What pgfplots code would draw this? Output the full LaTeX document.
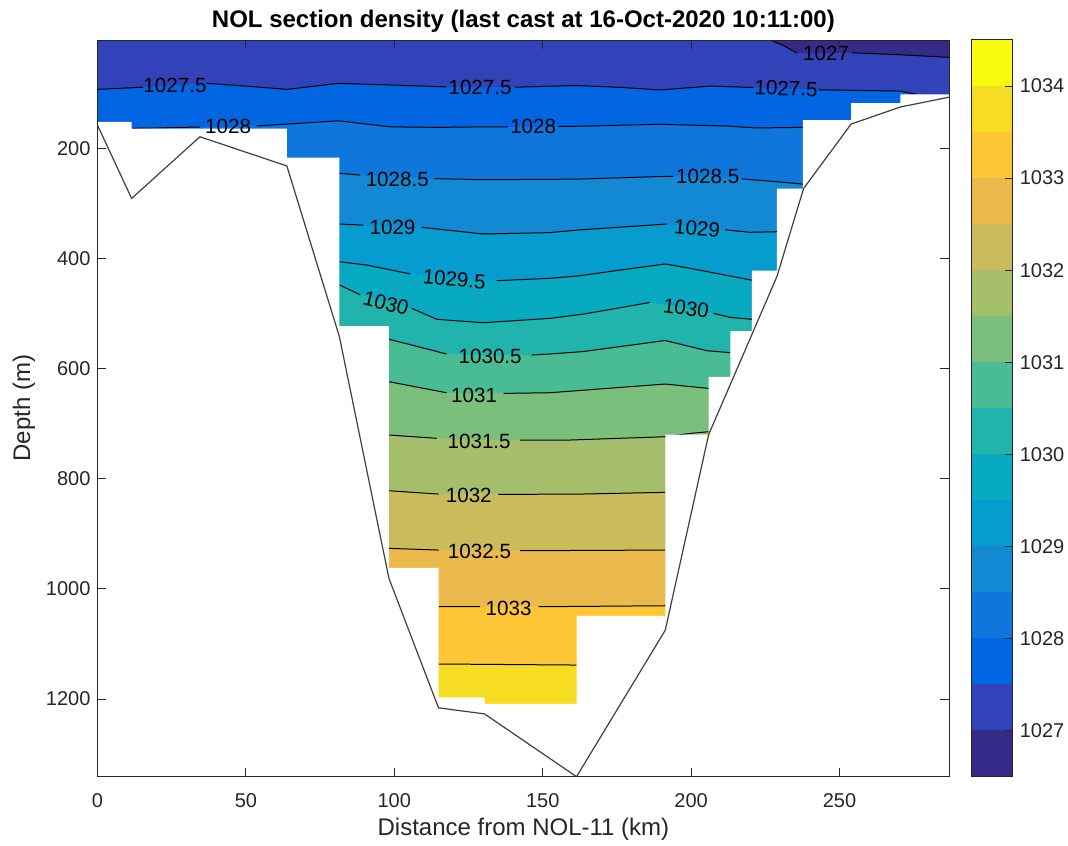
\documentclass[border=0pt]{standalone}
\usepackage{pgfplots}
\pgfplotsset{compat=1.18}
\usepackage{fontspec}
\setmainfont{Liberation Sans}
\definecolor{c0}{RGB}{53,42,135}
\definecolor{c1}{RGB}{50,67,186}
\definecolor{c2}{RGB}{2,101,225}
\definecolor{c3}{RGB}{15,119,219}
\definecolor{c4}{RGB}{19,136,211}
\definecolor{c5}{RGB}{7,156,207}
\definecolor{c6}{RGB}{7,170,193}
\definecolor{c7}{RGB}{32,180,173}
\definecolor{c8}{RGB}{73,188,148}
\definecolor{c9}{RGB}{122,191,124}
\definecolor{c10}{RGB}{165,190,107}
\definecolor{c11}{RGB}{202,187,92}
\definecolor{c12}{RGB}{236,185,76}
\definecolor{c13}{RGB}{254,197,53}
\definecolor{c14}{RGB}{246,221,34}
\definecolor{c15}{RGB}{249,251,14}
\definecolor{axc}{RGB}{38,38,38}
\tikzset{lab/.style={font=\fontsize{10.3}{12}\selectfont, inner sep=0pt, text=black}}
\begin{document}
\begin{tikzpicture}
\useasboundingbox (-48.75pt,-34.25pt) rectangle (485.25pt,388.25pt);
\begin{axis}[name=main, at={(0,0)}, anchor=south west,
  scale only axis, width=425.9pt, height=368.25pt,
  xmin=0, xmax=287, ymin=3.3, ymax=1340.7, y dir=reverse,
  axis on top,
  xtick={0,50,...,250}, ytick={200,400,...,1200},
  tick align=inside, major tick length=4.5pt,
  axis line style={draw=axc, line width=0.5pt},
  tick style={draw=axc, line width=0.5pt},
  /pgf/number format/1000 sep={},
  /pgf/number format/assume math mode=true,
  tick label style={font=\fontsize{10}{12}\selectfont, text=axc},
  xticklabel style={anchor=center, yshift=-12.25pt},
  xlabel={Distance from NOL-11 (km)},
  ylabel={Depth (m)},
  label style={font=\fontsize{12}{14}\selectfont, text=axc},
  xlabel style={at={(axis description cs:0.5,-0.0713)}, anchor=center},
  ylabel style={at={(axis description cs:-0.0863,0.5)}, anchor=center},
  title={NOL section density (last cast at 16-Oct-2020 10:11:00)},
  title style={font=\bfseries\fontsize{12}{14}\selectfont, at={(axis description cs:0.5,1.0258)}, anchor=center, yshift=-6pt},
  unbounded coords=jump,
]
% filled bands
\addplot[fill=c1, draw=none] coordinates {(-10,-10) (300,-10) (300,1400) (-10,1400)} -- cycle;
\addplot[fill=c0, draw=none] coordinates {(226.6,-10) (226.6,3.3) (231,13) (235.7,27) (245,27) (254.2,26.4) (270,30) (287,34.8) (300,34.8) (300,-10)} -- cycle;
\addplot[fill=c2, draw=none] coordinates {(-10,93) (0,93) (15.4,89) (26,85.5) (36.8,82) (50,87) (63.8,93) (81.2,82) (98.6,85) (114.9,88) (128.9,89) (140.5,89) (161.4,86) (175,89) (189.6,94) (206.4,87) (221,89.5) (232,91.5) (245.7,94) (270.5,96) (276,102) (287,104) (300,104) (300,1400) (-10,1400)} -- cycle;
\addplot[fill=c3, draw=none] coordinates {(11.5,163.7) (20,163) (34.5,161.3) (44,160.8) (53.6,159.5) (81.2,150) (98.6,161) (114.9,162) (130.4,161) (146.8,161) (161.4,160) (189.6,156.4) (212,159.5) (221.7,163) (237.7,162) (237.7,1400) (11.5,1400)} -- cycle;
\addplot[fill=c4, draw=none] coordinates {(81.5,245.4) (88.5,248.5) (101,253) (113.5,255) (130,257) (161,256) (191,251) (194,251) (205.6,252) (217,255.5) (228.9,260.6) (237.7,265) (237.7,1400) (81.5,1400)} -- cycle;
\addplot[fill=c5, draw=none] coordinates {(81.5,337.5) (89.6,339.5) (99.4,341.5) (109.3,343.5) (130,355.6) (152.5,353) (162.6,348) (191.8,337.5) (202,343) (211.5,348) (219.9,352.5) (228.9,351.4) (228.9,1400) (81.5,1400)} -- cycle;
\addplot[fill=c6, draw=none] coordinates {(81.5,405.9) (90.7,412) (105.3,428) (120.2,437) (134.5,440.4) (152.5,436) (161.5,432) (174.9,422) (191.3,410) (199.7,418) (220.5,439.5) (220.5,1400) (81.5,1400)} -- cycle;
\addplot[fill=c7, draw=none] coordinates {(81.5,448) (88.5,466) (97.2,478) (105.9,490.6) (114.3,510.5) (130,516.7) (152.5,508.7) (163.7,501) (174.9,490.5) (186,480) (198.3,490) (207.5,499.6) (213.2,507) (220.5,510.5) (220.5,1400) (81.5,1400)} -- cycle;
\addplot[fill=c8, draw=none] coordinates {(98.2,546.8) (105,556) (117.6,573.5) (132.3,576) (146.3,575.3) (152.5,573.5) (163.7,569) (191.3,549) (205.3,567.5) (213.2,571) (213.2,1400) (98.2,1400)} -- cycle;
\addplot[fill=c9, draw=none] coordinates {(98.2,623.8) (117.6,643.8) (127,645) (136.8,645) (152.5,643.8) (191.3,628) (205.9,636) (205.9,1400) (98.2,1400)} -- cycle;
\addplot[fill=c10, draw=none] coordinates {(98.2,720.6) (114.3,726.6) (128.6,729) (142.4,729.7) (159.2,729.7) (191.3,723.7) (200,717.5) (205.9,714.6) (205.9,1400) (98.2,1400)} -- cycle;
\addplot[fill=c11, draw=none] coordinates {(98.2,821.8) (114.9,827.8) (125,828) (135.1,828.3) (161,828) (191.3,824.7) (191.3,1400) (98.2,1400)} -- cycle;
\addplot[fill=c12, draw=none] coordinates {(98.2,926.4) (114.9,929.5) (128.7,930.3) (142.4,930.7) (191.3,929.5) (191.3,1400) (98.2,1400)} -- cycle;
\addplot[fill=c13, draw=none] coordinates {(114.9,1032.4) (138.5,1032.4) (191.3,1030.6) (191.3,1400) (114.9,1400)} -- cycle;
\addplot[fill=c14, draw=none] coordinates {(114.9,1136.4) (161.4,1138.3) (161.4,1400) (114.9,1400)} -- cycle;
% contour lines
\addplot[black, line width=0.5pt] coordinates {(226.6,3.3) (231,13) (235.7,27) (237.9,nan) (254.2,26.4) (270,30) (287,34.8)};
\addplot[black, line width=0.5pt] coordinates {(0,93) (15.4,89) (20,nan) (36.8,82) (50,87) (63.8,93) (81.2,82) (98.6,85) (114.9,88) (117.5,88.3) (120,nan) (140.5,89) (161.4,86) (175,89) (189.6,94) (206.4,87) (221,89.5) (230,nan) (243,93.6) (245.7,94) (270.5,96) (276,102)};
\addplot[black, line width=0.5pt] coordinates {(11.5,163.7) (20,163) (34.5,161.3) (40,nan) (53.6,159.5) (81.2,150) (98.6,161) (114.9,162) (130.4,161) (138.3,161) (145,nan) (155.3,160.4) (161.4,160) (189.6,156.4) (212,159.5) (221.7,163) (237.7,162)};
\addplot[black, line width=0.5pt] coordinates {(81.5,245.4) (88.5,248.5) (100,nan) (113.5,255) (130,257) (161,256) (191,251) (194,251) (200,nan) (217,255.5) (228.9,260.6) (237.7,265)};
\addplot[black, line width=0.5pt] coordinates {(81.5,337.5) (89.6,339.5) (100,nan) (109.3,343.5) (130,355.6) (152.5,353) (162.6,348) (191.8,337.5) (200,nan) (211.5,348) (219.9,352.5) (228.9,351.4)};
\addplot[black, line width=0.5pt] coordinates {(81.5,405.9) (90.7,412) (105.3,428) (120,nan) (134.5,440.4) (152.5,436) (161.5,432) (174.9,422) (191.3,410) (199.7,418) (220.5,439.5)};
\addplot[black, line width=0.5pt] coordinates {(81.5,448) (88.5,466) (95,nan) (105.9,490.6) (114.3,510.5) (130,516.7) (152.5,508.7) (163.7,501) (174.9,490.5) (186,480) (195,nan) (207.5,499.6) (213.2,507) (220.5,510.5)};
\addplot[black, line width=0.5pt] coordinates {(98.2,546.8) (105,556) (117.6,573.5) (130,nan) (146.3,575.3) (152.5,573.5) (163.7,569) (191.3,549) (205.3,567.5) (213.2,571)};
\addplot[black, line width=0.5pt] coordinates {(98.2,623.8) (117.6,643.8) (125,nan) (136.8,645) (152.5,643.8) (191.3,628) (205.9,636)};
\addplot[black, line width=0.5pt] coordinates {(98.2,720.6) (114.3,726.6) (130,nan) (142.4,729.7) (159.2,729.7) (191.3,723.7) (200,717.5) (205.9,714.6)};
\addplot[black, line width=0.5pt] coordinates {(98.2,821.8) (114.9,827.8) (125,nan) (135.1,828.3) (161,828) (191.3,824.7)};
\addplot[black, line width=0.5pt] coordinates {(98.2,926.4) (114.9,929.5) (130,nan) (142.4,930.7) (191.3,929.5)};
\addplot[black, line width=0.5pt] coordinates {(114.9,1032.4) (128.9,1032.4) (140,nan) (148.6,1032.4) (191.3,1030.6)};
\addplot[black, line width=0.5pt] coordinates {(114.9,1136.4) (161.4,1138.3)};
% mask below the casts
\addplot[fill=white, draw=none] coordinates {(-10,152) (11.5,152) (11.5,164) (63.8,164) (63.8,217) (81.5,217) (81.5,523) (98.2,523) (98.2,962) (114.9,962) (114.9,1197) (130.4,1197) (130.4,1209) (161.4,1209) (161.4,1049) (191.3,1049) (191.3,720) (205.9,720) (205.9,615) (213.2,615) (213.2,532) (220.5,532) (220.5,422) (228.9,422) (228.9,273) (237.7,273) (237.7,149) (253.9,149) (253.9,118) (270.5,118) (270.5,102) (300,102) (300,1400) (-10,1400)} -- cycle;
% bottom topography
\addplot[black!75, line width=0.6pt] coordinates {(0,158) (11.5,291) (34.5,179) (63.8,232) (81.5,542) (98.2,981) (114.9,1216) (130.4,1227) (161.4,1341) (191.3,1075) (205.9,720) (228.9,433) (237.9,273) (253.9,156) (270.5,125) (287,107)};
% contour labels
\node[lab] at (axis cs:245.5,27.8) {1027};
\node[lab] at (axis cs:26.1,85.5) {1027.5};
\node[lab] at (axis cs:128.9,88.5) {1027.5};
\node[lab, rotate=-2] at (axis cs:232,91) {1027.5};
\node[lab] at (axis cs:44,161) {1028};
\node[lab] at (axis cs:146.8,161) {1028};
\node[lab] at (axis cs:101,256) {1028.5};
\node[lab] at (axis cs:205.6,251.6) {1028.5};
\node[lab] at (axis cs:99.4,343) {1029};
\node[lab, rotate=-5] at (axis cs:202,345) {1029};
\node[lab, rotate=-5] at (axis cs:120.2,438) {1029.5};
\node[lab, rotate=-14] at (axis cs:97.2,481.5) {1030};
\node[lab, rotate=-8] at (axis cs:198.3,490.5) {1030};
\node[lab] at (axis cs:132.3,578) {1030.5};
\node[lab] at (axis cs:126.9,648) {1031};
\node[lab] at (axis cs:128.6,733) {1031.5};
\node[lab] at (axis cs:125.1,831) {1032};
\node[lab] at (axis cs:128.7,932.5) {1032.5};
\node[lab] at (axis cs:138.5,1035.3) {1033};
\end{axis}
% colorbar
\begin{axis}[at={(main.north east)}, anchor=north west, xshift=10.85pt,
  scale only axis, width=20.85pt, height=368.25pt,
  xmin=0, xmax=1, ymin=1026.5, ymax=1034.5,
  xtick=\empty, ytick={1027,1028,...,1034},
  ytick pos=right, yticklabel pos=right,
  tick align=inside, major tick length=3.8pt,
  axis on top,
  axis line style={draw=axc, line width=0.5pt},
  tick style={draw=axc, line width=0.5pt},
  /pgf/number format/1000 sep={},
  /pgf/number format/assume math mode=true,
  tick label style={font=\fontsize{10}{12}\selectfont, text=axc},
]
\addplot[fill=c0, draw=none] coordinates {(0,1026.5) (1,1026.5) (1,1027) (0,1027)} -- cycle;
\addplot[fill=c1, draw=none] coordinates {(0,1027) (1,1027) (1,1027.5) (0,1027.5)} -- cycle;
\addplot[fill=c2, draw=none] coordinates {(0,1027.5) (1,1027.5) (1,1028) (0,1028)} -- cycle;
\addplot[fill=c3, draw=none] coordinates {(0,1028) (1,1028) (1,1028.5) (0,1028.5)} -- cycle;
\addplot[fill=c4, draw=none] coordinates {(0,1028.5) (1,1028.5) (1,1029) (0,1029)} -- cycle;
\addplot[fill=c5, draw=none] coordinates {(0,1029) (1,1029) (1,1029.5) (0,1029.5)} -- cycle;
\addplot[fill=c6, draw=none] coordinates {(0,1029.5) (1,1029.5) (1,1030) (0,1030)} -- cycle;
\addplot[fill=c7, draw=none] coordinates {(0,1030) (1,1030) (1,1030.5) (0,1030.5)} -- cycle;
\addplot[fill=c8, draw=none] coordinates {(0,1030.5) (1,1030.5) (1,1031) (0,1031)} -- cycle;
\addplot[fill=c9, draw=none] coordinates {(0,1031) (1,1031) (1,1031.5) (0,1031.5)} -- cycle;
\addplot[fill=c10, draw=none] coordinates {(0,1031.5) (1,1031.5) (1,1032) (0,1032)} -- cycle;
\addplot[fill=c11, draw=none] coordinates {(0,1032) (1,1032) (1,1032.5) (0,1032.5)} -- cycle;
\addplot[fill=c12, draw=none] coordinates {(0,1032.5) (1,1032.5) (1,1033) (0,1033)} -- cycle;
\addplot[fill=c13, draw=none] coordinates {(0,1033) (1,1033) (1,1033.5) (0,1033.5)} -- cycle;
\addplot[fill=c14, draw=none] coordinates {(0,1033.5) (1,1033.5) (1,1034) (0,1034)} -- cycle;
\addplot[fill=c15, draw=none] coordinates {(0,1034) (1,1034) (1,1034.5) (0,1034.5)} -- cycle;
\end{axis}
\end{tikzpicture}
\end{document}
